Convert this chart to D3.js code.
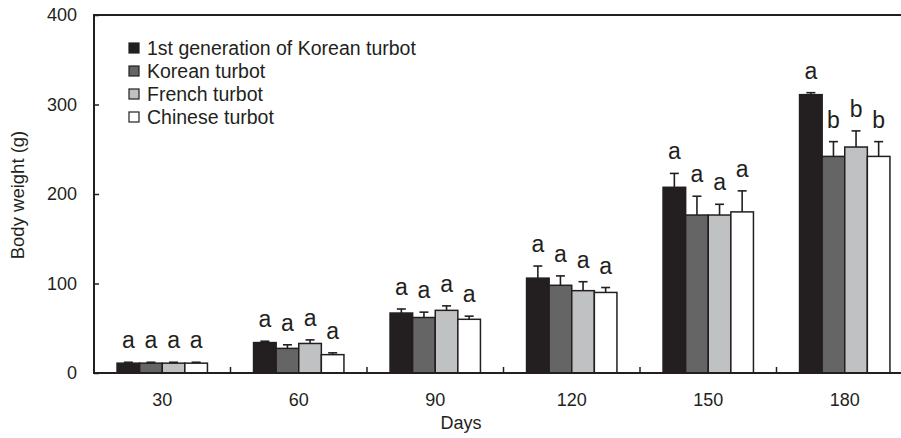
<!DOCTYPE html>
<html lang="en">
<head>
    <meta charset="UTF-8">
    <title>Body weight of turbot</title>
    <script src="https://cdn.jsdelivr.net/npm/d3@7"></script>
    <style>
        body { margin: 0; background: #fff; }
        text { font-family: "Liberation Sans", Arial, sans-serif; fill: #231f20; }
    </style>
</head>
<body>
<div id="chart"></div>
<script>
    // body weight (g) per sampling day, 4 turbot groups
    const days = ["30", "60", "90", "120", "150", "180"];
    const seriesNames = ["1st generation of Korean turbot", "Korean turbot", "French turbot", "Chinese turbot"];
    const seriesColors = ["#231f20", "#656565", "#c0c1c3", "#ffffff"];

    const firstGenKorean = [11, 34, 67, 106, 207.5, 311];
    const korean         = [11, 27.5, 62, 98, 176.5, 242];
    const french         = [11, 33, 70, 92, 176.5, 252.5];
    const chinese        = [11, 20.5, 60, 90, 180, 242];

    const errFirstGen = [1, 1.5, 4.5, 13.5, 15.5, 2.2];
    const errKorean   = [1, 4, 6, 10.5, 21, 16.5];
    const errFrench   = [1, 4, 5, 10, 12, 18];
    const errChinese  = [1, 2, 3.5, 5.5, 23.5, 16.5];

    const lettersFirstGen = ["a", "a", "a", "a", "a", "a"];
    const lettersKorean   = ["a", "a", "a", "a", "a", "b"];
    const lettersFrench   = ["a", "a", "a", "a", "a", "b"];
    const lettersChinese  = ["a", "a", "a", "a", "a", "b"];

    const yTicks = [0, 100, 200, 300, 400];

    const values = [firstGenKorean, korean, french, chinese];
    const errors = [errFirstGen, errKorean, errFrench, errChinese];
    const letters = [lettersFirstGen, lettersKorean, lettersFrench, lettersChinese];

    const width = 901, height = 438;
    const margin = {top: 15, left: 94, bottom: 65};
    const plotRight = 913;

    const rows = [];
    days.forEach((d, i) => {
        seriesNames.forEach((s, j) => {
            rows.push({day: d, series: s, idx: j, value: values[j][i], err: errors[j][i], letter: letters[j][i]});
        });
    });

    const svg = d3.select("#chart").append("svg")
        .attr("width", width)
        .attr("height", height);

    const x0 = d3.scaleBand()
        .domain(days)
        .range([margin.left, plotRight]);

    const x1 = d3.scaleBand()
        .domain(seriesNames)
        .range([0, x0.bandwidth()])
        .paddingOuter(1.02);

    const y = d3.scaleLinear()
        .domain([0, 400])
        .range([height - margin.bottom, margin.top]);

    // bars
    svg.append("g")
        .selectAll("rect")
        .data(rows)
        .enter()
        .append("rect")
        .attr("x", d => x0(d.day) + x1(d.series))
        .attr("y", d => y(d.value))
        .attr("width", x1.bandwidth())
        .attr("height", d => y(0) - y(d.value))
        .attr("fill", d => seriesColors[d.idx])
        .attr("stroke", "#231f20")
        .attr("stroke-width", 1.5);

    // error bars (upper only)
    const eb = svg.append("g").attr("stroke", "#231f20").attr("stroke-width", 1.6);
    rows.forEach(d => {
        const cx = x0(d.day) + x1(d.series) + x1.bandwidth() / 2;
        eb.append("line")
            .attr("x1", cx).attr("x2", cx)
            .attr("y1", y(d.value)).attr("y2", y(d.value + d.err));
        eb.append("line")
            .attr("x1", cx - 4.5).attr("x2", cx + 4.5)
            .attr("y1", y(d.value + d.err)).attr("y2", y(d.value + d.err));
    });

    // significance letters
    svg.append("g")
        .selectAll("text")
        .data(rows)
        .enter()
        .append("text")
        .attr("x", d => x0(d.day) + x1(d.series) + x1.bandwidth() / 2)
        .attr("y", d => y(d.value + d.err) - 14)
        .attr("text-anchor", "middle")
        .style("font-size", "23px")
        .text(d => d.letter);

    // y axis
    const yAxis = svg.append("g")
        .attr("transform", `translate(${margin.left},0)`)
        .call(d3.axisRight(y).tickValues(yTicks).tickSize(5).tickFormat(d3.format("d")));
    yAxis.select(".domain").remove();
    yAxis.selectAll(".tick line").attr("stroke", "#231f20").attr("stroke-width", 1.5);
    yAxis.selectAll(".tick text")
        .attr("x", -17)
        .attr("text-anchor", "end")
        .style("font-size", "18px")
        .style("font-family", "'Liberation Sans', Arial, sans-serif")
        .attr("fill", "#231f20");

    // x axis
    const xAxis = svg.append("g")
        .attr("transform", `translate(0,${y(0)})`)
        .call(d3.axisBottom(x0).tickSize(0).tickPadding(20));
    xAxis.select(".domain").remove();
    xAxis.selectAll(".tick text")
        .style("font-size", "18px")
        .style("font-family", "'Liberation Sans', Arial, sans-serif")
        .attr("fill", "#231f20");

    // group boundary ticks
    svg.append("g")
        .selectAll("line")
        .data(days.slice(1))
        .enter()
        .append("line")
        .attr("x1", d => x0(d)).attr("x2", d => x0(d))
        .attr("y1", y(0)).attr("y2", y(0) - 6)
        .attr("stroke", "#231f20")
        .attr("stroke-width", 1.5);

    // frame: left, bottom, top
    const frame = svg.append("g").attr("stroke", "#231f20").attr("stroke-width", 2).attr("fill", "none");
    frame.append("path")
        .attr("d", `M${width},${y(400)}H${margin.left}V${y(0)}H${width}`);

    // axis titles
    svg.append("text")
        .attr("x", 461)
        .attr("y", 429)
        .attr("text-anchor", "middle")
        .style("font-size", "18px")
        .text("Days");

    svg.append("text")
        .attr("transform", `translate(24,195) rotate(-90)`)
        .attr("text-anchor", "middle")
        .style("font-size", "18.5px")
        .text("Body weight (g)");

    // legend
    const legend = svg.append("g").attr("transform", "translate(129,48)");
    seriesNames.forEach((s, j) => {
        const g = legend.append("g").attr("transform", `translate(0,${j * 23})`);
        g.append("rect")
            .attr("x", 0).attr("y", -5)
            .attr("width", 10).attr("height", 10)
            .attr("fill", seriesColors[j])
            .attr("stroke", "#231f20")
            .attr("stroke-width", 1.2);
        g.append("text")
            .attr("x", 18)
            .attr("y", 7)
            .style("font-size", "19.5px")
            .text(s);
    });
</script>
</body>
</html>
